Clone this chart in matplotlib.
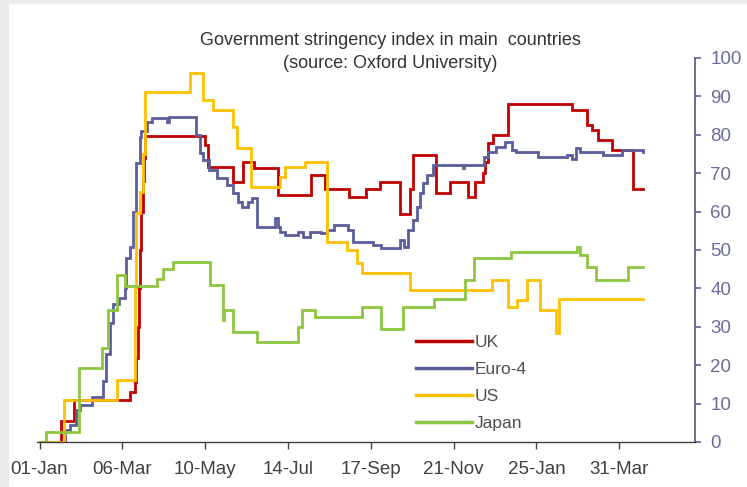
import numpy as np
import pandas as pd
import matplotlib
matplotlib.use("Agg")
import matplotlib.pyplot as plt
from matplotlib.patches import Rectangle

start = pd.Timestamp("2020-01-01")

# Step series: day offset from 2020-01-01 where a new level begins, and the level
uk_day = [0, 17, 27, 71, 75, 76, 77, 78, 79, 80, 81, 82, 83, 130, 132, 152, 160, 168, 187, 213, 224, 243,
          256, 267, 283, 291, 293, 311, 322, 336, 342, 348, 350, 352, 356, 368, 418, 430, 434, 438, 449, 466, 474]
uk_val = [0, 5.5, 11, 13, 15.6, 22, 30, 40, 50, 60, 68, 74, 79.6, 77.3, 71.7, 67.8, 73, 71.3, 64.3, 69.5, 66, 63.9,
          66, 67.8, 59.5, 66, 74.7, 64.8, 67.8, 63.9, 67.8, 70, 73, 77.8, 80, 88, 86.5, 82.5, 81.2, 78.6, 76, 66, 66]

eu_day = [0, 20, 24, 29, 32, 41, 50, 52, 55, 58, 62, 67, 68, 71, 73, 76, 79, 80, 84, 88,
          100, 102, 123, 126, 128, 133, 139, 147, 152, 156, 159, 164, 167, 171, 185, 187, 189, 193, 203, 207,
          212, 221, 226, 231, 242, 246, 262, 268, 283, 286, 289, 293, 296, 299, 301, 304, 309, 332, 333, 349,
          352, 358, 365, 371, 374, 391, 414, 418, 421, 424, 442, 457, 474]
eu_val = [0, 3.1, 4.4, 8.3, 9.6, 11.7, 16, 23, 31, 36, 37.5, 40, 48, 50.8, 60, 72.6, 79.5, 81, 83.4, 84.4,
          83.4, 84.7, 80, 75.2, 73.4, 70.8, 68.7, 66.9, 64.8, 62.5, 61.3, 62.6, 63.5, 56, 58.3, 56, 54.8, 53.9, 54.8, 53.5,
          54.8, 54.4, 55.2, 56.5, 55.2, 52.2, 51.3, 50.6, 52.6, 50.9, 55.2, 57.8, 61.3, 64.8, 67.4, 69.5, 72.1, 71.3, 72.1, 74.3,
          75.6, 76.9, 78.2, 76, 75.6, 74.3, 74.7, 73.6, 76.5, 75.6, 74.7, 76, 75.6]

us_day = [0, 19, 61, 75, 76, 79, 81, 83, 118, 128, 136, 152, 155, 166, 189, 193, 208, 226, 241, 249,
          253, 291, 355, 368, 375, 383, 393, 405, 408, 474]
us_val = [0, 10.9, 16.1, 40, 59.6, 65, 75, 91.2, 96, 89, 86.5, 82, 76.5, 66.5, 69.1, 71.7, 73, 52.2, 50, 46.5,
          43.9, 39.6, 42.2, 35.2, 37, 42.2, 34.4, 28.3, 37.2, 37.2]

jp_day = [0, 5, 31, 49, 54, 61, 67, 92, 97, 105, 134, 144, 145, 152, 171, 203, 206, 216, 253, 268,
          285, 310, 334, 341, 370, 422, 424, 430, 437, 462, 474]
jp_val = [0, 2.7, 19.4, 24.6, 34.4, 43.5, 40.6, 42.5, 45, 47, 40.9, 31.8, 34.4, 28.7, 26, 30, 34.4, 32.6, 35.2, 29.4,
          35.2, 37.3, 42.2, 47.8, 49.6, 50.9, 48.7, 45.6, 42.2, 45.5, 45.5]

series_names = ["UK", "Euro-4", "US", "Japan"]
series_colors = ["#C00000", "#5B5E9A", "#FFC000", "#8DC63F"]

tick_dates = ["2020-01-01", "2020-03-06", "2020-05-10", "2020-07-14",
              "2020-09-17", "2020-11-21", "2021-01-25", "2021-03-31"]
tick_labels = ["01-Jan", "06-Mar", "10-May", "14-Jul", "17-Sep", "21-Nov", "25-Jan", "31-Mar"]
y_ticks = [0, 10, 20, 30, 40, 50, 60, 70, 80, 90, 100]

title_text = "Government stringency index in main  countries\n(source: Oxford University)"

plt.rcParams["font.family"] = ["Liberation Sans", "DejaVu Sans"]

W, H = 747, 487
fig = plt.figure(figsize=(W / 100, H / 100), dpi=100)
fig.patch.set_facecolor("white")
fig.patches.append(Rectangle((0, 0), 8 / W, 1, transform=fig.transFigure, color="#EBEBEB", zorder=0))
fig.patches.append(Rectangle((0, 1 - 3 / H), 1, 3 / H, transform=fig.transFigure, color="#EBEBEB", zorder=0))

ax = fig.add_axes([37 / W, 45 / H, (695 - 37) / W, (442 - 58) / H])
ax.set_facecolor("none")

for days, vals, name, col in zip([uk_day, eu_day, us_day, jp_day], [uk_val, eu_val, us_val, jp_val],
                                 series_names, series_colors):
    x = start + pd.to_timedelta(days, unit="D")
    ax.plot(x, vals, drawstyle="steps-post", color=col, lw=2.0, label=name, solid_joinstyle="miter")

ax.set_xlim(start - pd.Timedelta(days=2), start + pd.Timedelta(days=514.5))
ax.set_ylim(0, 100)

ax.set_xticks(pd.to_datetime(tick_dates))
ax.set_xticklabels(tick_labels)
ax.yaxis.tick_right()
ax.set_yticks(y_ticks)

ax.spines["left"].set_visible(False)
ax.spines["top"].set_visible(False)
axis_blue = "#5E6194"
ax.spines["right"].set_color(axis_blue)
ax.spines["right"].set_linewidth(1.3)
ax.spines["bottom"].set_color("#404040")
ax.spines["bottom"].set_linewidth(1.0)

ax.tick_params(axis="y", which="both", left=False, right=True, direction="out", length=4, width=1.2,
               color=axis_blue, labelcolor="#6A6D99", labelsize=13.5, pad=7)
ax.tick_params(axis="x", direction="out", length=5, width=1.0, color="#404040",
               labelcolor="#404040", labelsize=13.5, pad=8.5)
for lbl in ax.get_yticklabels():
    lbl.set_horizontalalignment("left")

leg = fig.legend(loc="upper left", bbox_to_anchor=(416 / W, 1 - 335 / H), frameon=False,
                 borderpad=0, borderaxespad=0, handlelength=3.2, handletextpad=0.2,
                 labelspacing=0.68, fontsize=12.5)
for t in leg.get_texts():
    t.set_color("#505050")
for h in leg.get_lines():
    h.set_linewidth(2.5)

fig.text(390 / W, 1 - 52 / H, title_text, ha="center", va="center", fontsize=13,
         color="#333333", linespacing=1.45)

fig.savefig("out.png", dpi=100)
